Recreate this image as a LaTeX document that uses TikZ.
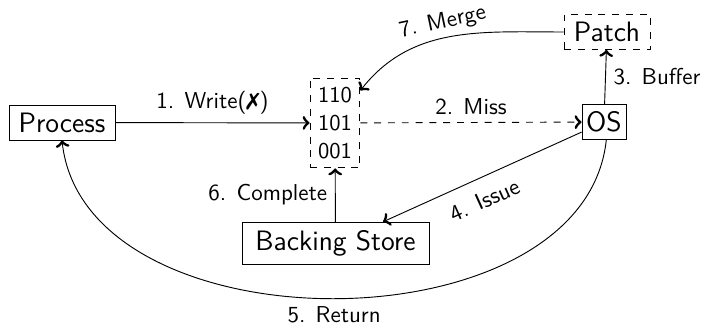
\documentclass[tikz,border=0pt]{standalone}
\usepackage{pifont}
\usetikzlibrary{arrows.meta}

\begin{document}
\begin{tikzpicture}[x=0.4348pt, y=0.4348pt,
  box/.style={draw, inner sep=0pt, font=\fontsize{12.2}{14.6}\selectfont\sffamily},
  dbox/.style={box, dashed},
  lbl/.style={font=\fontsize{10}{12}\selectfont\sffamily},
  conn/.style={-{Classical TikZ Rightarrow[length=3pt, width=6pt, line width=1pt 0 1]}},
]
\useasboundingbox (0,0) rectangle (704,-326);

% components
\node[box, minimum width=46.1pt, minimum height=15.2pt] (proc) at (62,-122.5) {Process};
\node[dbox, minimum width=21.7pt, minimum height=39.1pt, align=center,
      font=\fontsize{9.8}{12.2}\selectfont\sffamily] (mem) at (335,-123) {110\\101\\001};
\node[box, minimum width=19.1pt, minimum height=15.2pt] (os) at (604,-122) {OS};
\node[dbox, minimum width=37.4pt, minimum height=15.2pt] (patch) at (607,-32) {Patch};
\node[box, minimum width=81.3pt, minimum height=18.3pt] (bs) at (335.5,-243.3) {Backing Store};

% numbered steps
\draw[conn] (proc) -- node[lbl, above] {1. Write(\ding{55})} (mem);
\draw[conn, dashed] (mem) -- node[lbl, above] {2. Miss} (os);
\draw[conn] (os) -- node[lbl, right] {3. Buffer} (patch);
\draw[conn] (os) -- node[lbl, sloped, below=2.5pt, pos=0.535] {4. Issue} (bs);
\draw[conn] ([xshift=1pt]os.south) to[out=-96, in=-84] node[lbl, below] {5. Return} (proc.south);
\draw[conn] (bs) -- node[lbl, left] {6. Complete} (mem);
\draw[conn] (patch.west) to[out=180, in=52] node[lbl, sloped, above=-1.3pt, pos=0.52] {7. Merge} (mem);
\end{tikzpicture}
\end{document}
